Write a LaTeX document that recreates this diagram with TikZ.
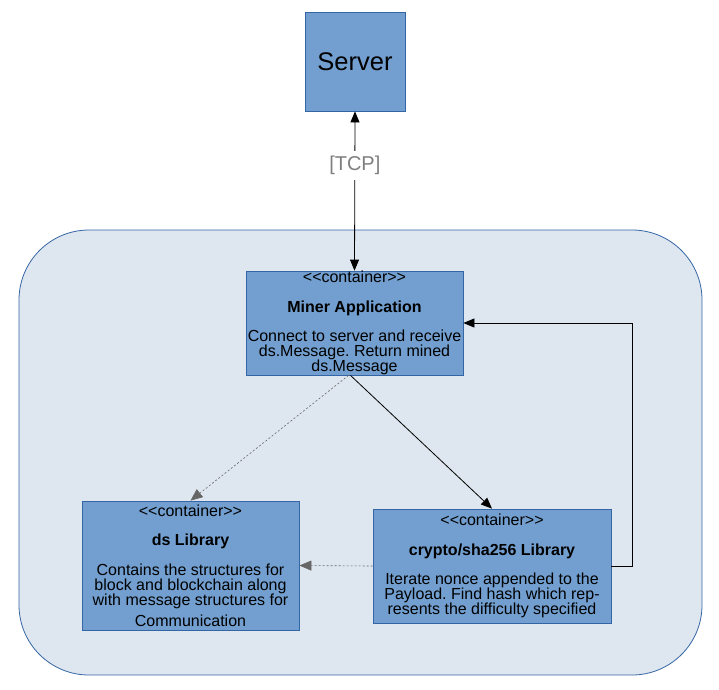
\documentclass[tikz,border=0pt]{standalone}
\usepackage{fontspec}
\setmainfont{Liberation Sans}
\usetikzlibrary{arrows.meta}
\definecolor{boxfill}{HTML}{729FCF}
\definecolor{boxline}{HTML}{3465A4}
\definecolor{panelfill}{HTML}{DEE6EF}
\definecolor{dotgray}{HTML}{666666}
\definecolor{labelgray}{HTML}{7F7F7F}
\newcommand{\stereo}{<\kern0pt<container>\kern0pt>}
\frenchspacing

\begin{document}
\begin{tikzpicture}[x=1pt,y=-1pt,line width=0.8pt,
  >={Triangle[length=11pt,width=9pt]},
  unit/.style={draw=boxline,fill=boxfill,inner sep=0pt,align=center,font=\fontsize{16}{15}\selectfont},
  weak/.style={dotgray,line width=0.6pt,dash pattern=on 2pt off 2pt,-{Triangle[length=12pt,width=10pt]}}]
\useasboundingbox (0,0) rectangle (719,689);
% the outer container
\draw[boxline,fill=panelfill,rounded corners=70pt] (19,230) rectangle (702,675);
% the boxes
\node[unit,minimum width=100pt,minimum height=99pt,font=\fontsize{25.5}{28}\selectfont] (server) at (355,61.5) {Server};
\node[unit,minimum width=217pt,minimum height=104pt] (miner) at (354.5,323)
  {\stereo\\[14.5pt]\textbf{Miner Application}\\[14.5pt]Connect to server and receive\\ds.Message. Return mined\\ds.Message};
\node[unit,minimum width=217pt,minimum height=129pt] (ds) at (190.5,565.5)
  {\stereo\\[14.5pt]\textbf{ds Library}\\[14.5pt]Contains the structures for\\block and blockchain along\\with message structures for\\[6pt]Communication};
\node[unit,minimum width=238pt,minimum height=114pt] (crypto) at (492,566)
  {\stereo\\[14.5pt]\textbf{crypto/sha256 Library}\\[14.5pt]Iterate nonce appended to the\\Payload. Find hash which rep-\\resents the difficulty specified};
% the connectors
\draw[<->] (miner.north) -- node[pos=0.66,fill=white,inner sep=5pt,text=labelgray,font=\fontsize{20}{22}\selectfont] (tcp) {[TCP]} (server.south);
\draw[->] ([xshift=-4pt]miner.south) -- (crypto.north);
\draw[weak] ([xshift=-6pt]miner.south) -- (ds.north);
\draw[weak] (crypto.west) -- (ds.east);
\coordinate (turn) at (632,323);
\draw[->] (crypto.east) -| (turn) -- (miner.east);
\end{tikzpicture}
\end{document}
